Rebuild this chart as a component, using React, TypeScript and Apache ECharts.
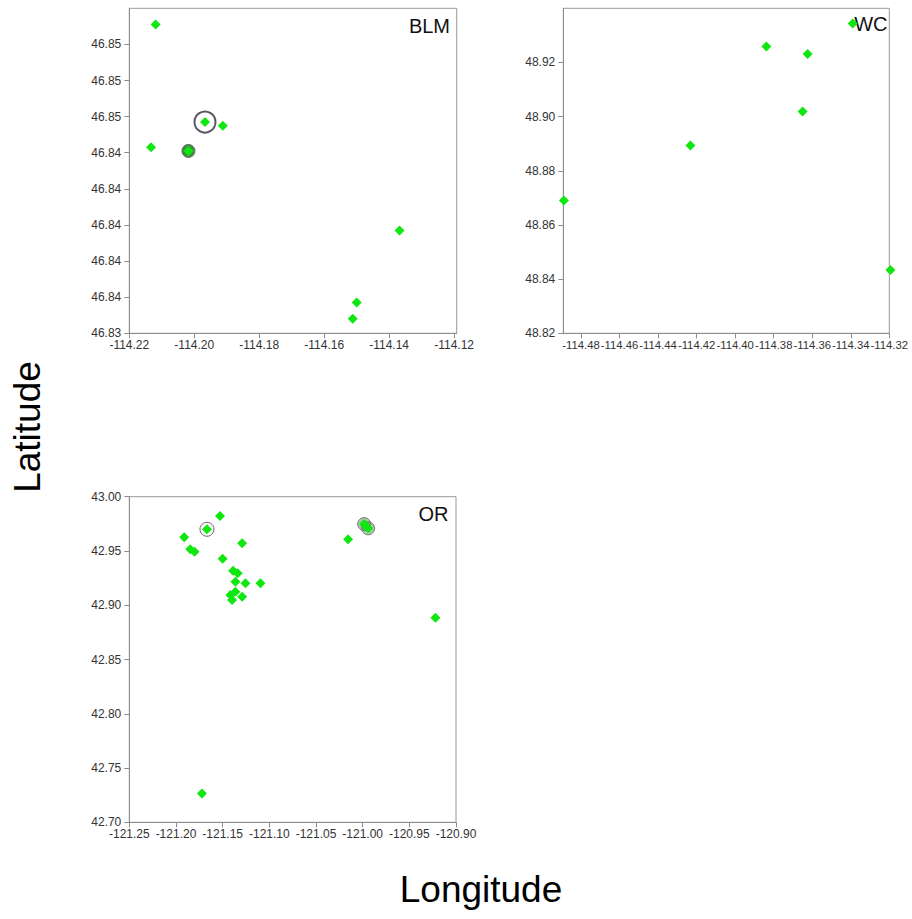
import React, { useEffect, useRef } from "react";
import * as echarts from "echarts";

// ---------- data ----------
// BLM panel
const blmLon = [-114.2119, -114.1967, -114.1912, -114.2133, -114.2018, -114.1368, -114.15, -114.1512];
const blmLat = [46.8511, 46.8457, 46.8455, 46.8443, 46.8441, 46.8397, 46.8357, 46.8348];
const blmCircledLon = [-114.1967, -114.2018];
const blmCircledLat = [46.8457, 46.8441];
const blmXTicks = [-114.22, -114.2, -114.18, -114.16, -114.14, -114.12];
const blmYTicks = [46.834, 46.836, 46.838, 46.84, 46.842, 46.844, 46.846, 46.848, 46.85];

// WC panel
const wcLon = [-114.339, -114.3838, -114.3624, -114.365, -114.4232, -114.4889, -114.3194];
const wcLat = [48.9344, 48.9259, 48.9231, 48.9019, 48.8893, 48.869, 48.8434];
const wcXTicks = [-114.48, -114.46, -114.44, -114.42, -114.4, -114.38, -114.36, -114.34, -114.32];
const wcYTicks = [48.82, 48.84, 48.86, 48.88, 48.9, 48.92];

// OR panel
const orLon = [
  -121.1528, -121.1668, -121.1912, -121.1847, -121.1801, -121.1291, -121.15,
  -121.1388, -121.1339, -121.1363, -121.1256, -121.1095, -121.1417, -121.1363,
  -121.1291, -121.1399, -121.0156, -120.9984, -120.9941, -120.922, -121.1722,
];
const orLat = [
  42.9822, 42.97, 42.9626, 42.9515, 42.9493, 42.957, 42.9429,
  42.9318, 42.9294, 42.9217, 42.9202, 42.9202, 42.9094, 42.9124,
  42.9078, 42.9048, 42.9607, 42.9748, 42.9709, 42.8885, 42.7266,
];
const orCircledLon = [-121.1668, -120.9984, -120.9941];
const orCircledLat = [42.97, 42.9748, 42.9709];
const orXTicks = [-121.25, -121.2, -121.15, -121.1, -121.05, -121.0, -120.95, -120.9];
const orYTicks = [42.7, 42.75, 42.8, 42.85, 42.9, 42.95, 43.0];

const panelNames = ["BLM", "WC", "OR"];
const xTitle = "Longitude";
const yTitle = "Latitude";

// ---------- styling ----------
const FONT = "'Liberation Sans', Arial, sans-serif";
const GREEN = "#10e610";
const AXIS_GRAY = "#8c8c8c";

const zip = (xs: number[], ys: number[]) => xs.map((x, i) => [x, ys[i]]);

function makeAxis(kind: "x" | "y", idx: number, min: number, max: number, ticks: number[], fontSize = 12) {
  return {
    type: "value",
    gridIndex: idx,
    min,
    max,
    axisLine: { show: true, onZero: false, lineStyle: { color: AXIS_GRAY, width: 1 } },
    axisTick: {
      show: true,
      inside: false,
      length: 5,
      customValues: ticks,
      lineStyle: { color: AXIS_GRAY },
    },
    axisLabel: {
      show: true,
      customValues: ticks,
      showMinLabel: true,
      showMaxLabel: true,
      hideOverlap: false,
      formatter: (v: number) => v.toFixed(2),
      color: "#333",
      fontSize,
      fontFamily: FONT,
      margin: kind === "x" ? 6 : 8,
    },
    splitLine: { show: false },
  };
}

function diamonds(idx: number, lon: number[], lat: number[]) {
  return {
    type: "scatter",
    xAxisIndex: idx,
    yAxisIndex: idx,
    symbol: "diamond",
    symbolSize: 10,
    clip: false,
    z: 3,
    itemStyle: { color: GREEN, opacity: 1 },
    data: zip(lon, lat),
  };
}

function circles(idx: number, lon: number[], lat: number[], styles: any[]) {
  return {
    type: "scatter",
    xAxisIndex: idx,
    yAxisIndex: idx,
    symbol: "circle",
    clip: false,
    z: 2,
    data: zip(lon, lat).map((v, i) => ({
      value: v,
      symbolSize: styles[i].size,
      itemStyle: {
        color: styles[i].fill,
        borderColor: styles[i].border,
        borderWidth: styles[i].width,
        opacity: 1,
      },
    })),
  };
}

export default function App() {
  const ref = useRef<HTMLDivElement>(null);

  useEffect(() => {
    if (!ref.current) return;
    const chart = echarts.init(ref.current, null, { renderer: "svg" });

    const gridStyle = { show: true, borderColor: "#9a9a9a", borderWidth: 1, backgroundColor: "transparent", containLabel: false };

    const option: any = {
      animation: false,
      backgroundColor: "#ffffff",
      grid: [
        { ...gridStyle, left: 129.3, top: 8.3, width: 327.4, height: 325 },
        { ...gridStyle, left: 563.3, top: 8.3, width: 326, height: 325 },
        { ...gridStyle, left: 129.3, top: 496.7, width: 326.7, height: 325.6 },
      ],
      xAxis: [
        makeAxis("x", 0, -114.22, -114.1192, blmXTicks),
        makeAxis("x", 1, -114.4892, -114.32, wcXTicks, 11.3),
        makeAxis("x", 2, -121.25, -120.9, orXTicks),
      ],
      yAxis: [
        makeAxis("y", 0, 46.834, 46.852, blmYTicks),
        makeAxis("y", 1, 48.82, 48.94, wcYTicks),
        makeAxis("y", 2, 42.7, 43.0, orYTicks),
      ],
      series: [
        circles(0, blmCircledLon, blmCircledLat, [
          { size: 21, fill: "rgba(0,0,0,0)", border: "#5b5662", width: 2 },
          { size: 13, fill: "#3d8f3d", border: "#6a6a6a", width: 1 },
        ]),
        diamonds(0, blmLon, blmLat),
        diamonds(1, wcLon, wcLat),
        circles(2, orCircledLon, orCircledLat, [
          { size: 14, fill: "rgba(0,0,0,0)", border: "#666", width: 1 },
          { size: 13, fill: "rgba(60,140,60,0.45)", border: "#777", width: 1 },
          { size: 13, fill: "rgba(60,140,60,0.45)", border: "#777", width: 1 },
        ]),
        diamonds(2, orLon, orLat),
      ],
      graphic: [
        {
          type: "text",
          x: 450,
          y: 26,
          z: 1,
          style: { text: panelNames[0], fontSize: 20, fontFamily: FONT, fill: "#111", align: "right", verticalAlign: "middle" },
        },
        {
          type: "text",
          x: 887.5,
          y: 24,
          z: 1,
          style: { text: panelNames[1], fontSize: 20, fontFamily: FONT, fill: "#111", align: "right", verticalAlign: "middle" },
        },
        {
          type: "text",
          x: 448.5,
          y: 514,
          z: 1,
          style: { text: panelNames[2], fontSize: 20, fontFamily: FONT, fill: "#111", align: "right", verticalAlign: "middle" },
        },
        {
          type: "text",
          x: 481,
          y: 889,
          style: { text: xTitle, fontSize: 37, fontFamily: FONT, fill: "#000", align: "center", verticalAlign: "middle" },
        },
        {
          type: "text",
          x: 27,
          y: 427,
          rotation: Math.PI / 2,
          style: { text: yTitle, fontSize: 37, fontFamily: FONT, fill: "#000", align: "center", verticalAlign: "middle" },
        },
      ],
    };

    chart.setOption(option);
    return () => chart.dispose();
  }, []);

  return (
    <div
      ref={ref}
      style={{ position: "fixed", left: 0, top: 0, width: 912, height: 919, background: "#fff" }}
    />
  );
}
